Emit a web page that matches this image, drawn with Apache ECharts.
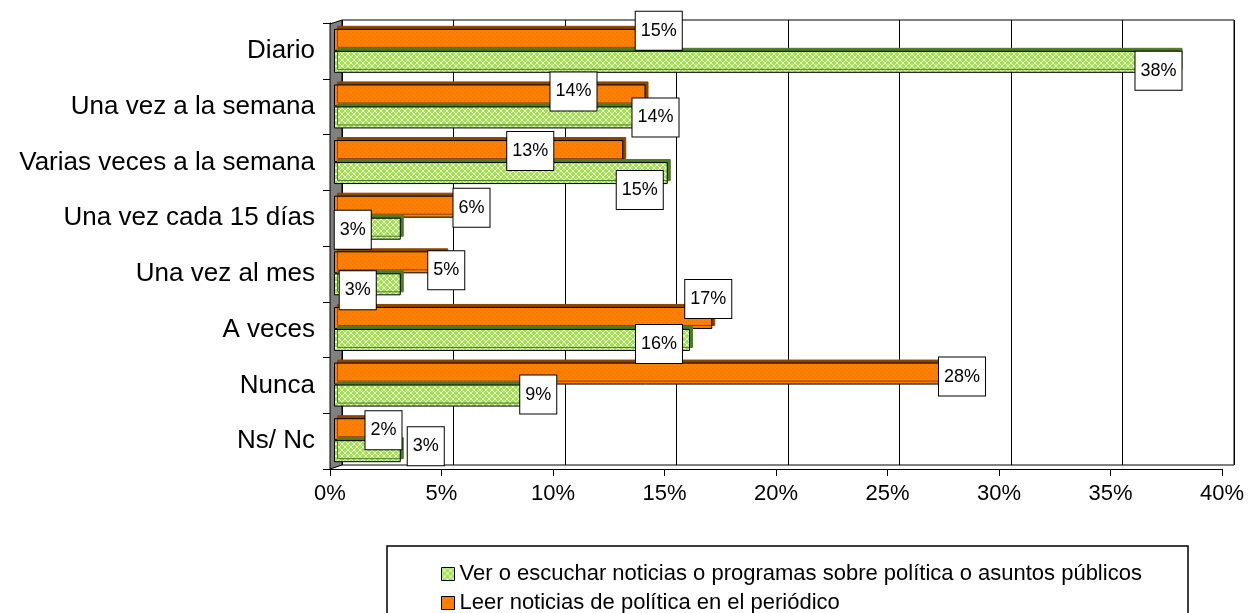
<!DOCTYPE html>
<html>
<head>
<meta charset="utf-8">
<script src="https://cdn.jsdelivr.net/npm/echarts@6/dist/echarts.min.js"></script>
<style>
html,body{margin:0;padding:0;background:#fff;}
#chart{width:1249px;height:613px;}
</style>
</head>
<body>
<div id="chart"></div>
<script>
// ---- data ----
const categories = ['Diario','Una vez a la semana','Varias veces a la semana','Una vez cada 15 días','Una vez al mes','A veces','Nunca','Ns/ Nc'];
const seriesVerName = 'Ver o escuchar noticias o programas sobre política o asuntos públicos';
const seriesLeerName = 'Leer noticias de política en el periódico';
const verValues  = [38, 14, 15, 3, 3, 16, 9, 3];
const leerValues = [15, 14, 13, 6, 5, 17, 28, 2];
const xTickMax = 40;
const xTickStep = 5;

// ---- label nudges (style only, pixels relative to bar end) ----
const leerNudgeX = [-9, -72, -93, 4, 1, -4, 5, 5];
const leerNudgeY = [-9, -4, 0, 1, 8, -19, 3, 1];
const verNudgeX  = [-21, 10, -28, -48, -43, -31, 4, 25];
const verNudgeY  = [9, 0, 17, 1, 6, 4, -1, -5];

function makeGreenPattern(){
  const c = document.createElement('canvas'); c.width = 6; c.height = 6;
  const g = c.getContext('2d');
  g.fillStyle = '#A8DD5C'; g.fillRect(0,0,6,6);
  g.fillStyle = '#E2FFC4';
  for (let i=0;i<6;i++){ g.fillRect(i,i,1,1); g.fillRect(5-i,i,1,1); }
  return c;
}
function makeOrangePattern(){
  const c = document.createElement('canvas'); c.width = 4; c.height = 4;
  const g = c.getContext('2d');
  g.fillStyle = '#FF8000'; g.fillRect(0,0,4,4);
  g.fillStyle = '#EE7400';
  g.fillRect(0,0,1,1); g.fillRect(2,2,1,1);
  return c;
}

const chart = echarts.init(document.getElementById('chart'), null, {renderer:'canvas'});
const FONT = "'Liberation Sans', Arial, sans-serif";

const labelBase = {
  show: true,
  position: ['100%','50%'],
  align: 'center',
  verticalAlign: 'middle',
  formatter: '{c}%',
  fontFamily: FONT,
  fontSize: 18,
  lineHeight: 22,
  color: '#000',
  backgroundColor: '#fff',
  borderColor: '#000',
  borderWidth: 1,
  padding: [8,5,8,5]
};

const option = {
  animation: false,
  backgroundColor: '#fff',
  textStyle: {fontFamily: FONT},
  legend: {
    orient: 'vertical',
    left: 436,
    top: 558,
    height: 80,
    width: 760,
    itemWidth: 13,
    itemHeight: 13,
    itemGap: 7,
    icon: 'rect',
    data: [seriesVerName, seriesLeerName],
    textStyle: {fontFamily: FONT, fontSize: 22, color: '#000'},
    itemStyle: {borderColor:'#000', borderWidth:1, shadowBlur:0, shadowOffsetX:0, shadowOffsetY:0, shadowColor:'rgba(0,0,0,0)'}
  },
  graphic: [
    {type:'rect', z: -1, shape:{x:387, y:546, width:801, height:90}, style:{fill:'#fff', stroke:'#000', lineWidth:1.5}},
    {type:'polygon', z: 1, shape:{points:[[330,24],[342,20],[342,465],[330,469]]}, style:{fill:'#808080', stroke:'#000', lineWidth:1}}
  ],
  grid: [
    {left:330, top:23, width:892, height:446},
    {left:342, top:20, width:892, height:445, show:true, backgroundColor:'#fff', borderColor:'#000', borderWidth:1},
    {left:334, top:23, width:890, height:445}
  ],
  xAxis: [
    {gridIndex:0, type:'value', min:0, max:xTickMax, interval:xTickStep,
     axisLine:{show:true, lineStyle:{color:'#000', width:1}},
     axisTick:{show:true, length:7, lineStyle:{color:'#000'}},
     axisLabel:{formatter:'{value}%', fontSize:22, color:'#000', fontFamily:FONT, margin:14},
     splitLine:{show:false}},
    {gridIndex:1, type:'value', min:0, max:xTickMax, interval:xTickStep,
     axisLine:{show:false}, axisTick:{show:false}, axisLabel:{show:false},
     splitLine:{show:true, lineStyle:{color:'#000', width:1}}},
    {gridIndex:2, type:'value', min:0, max:xTickMax, interval:xTickStep,
     axisLine:{show:false}, axisTick:{show:false}, axisLabel:{show:false}, splitLine:{show:false}}
  ],
  yAxis: [
    {gridIndex:0, type:'category', data:categories, inverse:true,
     axisLine:{show:true, lineStyle:{color:'#000', width:1}},
     axisTick:{show:true, length:7, lineStyle:{color:'#000'}},
     axisLabel:{fontSize:26, color:'#000', fontFamily:FONT, margin:15},
     splitLine:{show:false}},
    {gridIndex:1, type:'category', data:categories, inverse:true, show:false},
    {gridIndex:2, type:'category', data:categories, inverse:true, show:false}
  ],
  series: [
    {
      name: seriesLeerName, type:'bar', xAxisIndex:2, yAxisIndex:2, z:3,
      barWidth: 22, barGap: '0%',
      itemStyle: {color:{image: makeOrangePattern(), repeat:'repeat'}, borderColor:'#000', borderWidth:1,
                  shadowColor:'#8A4500', shadowBlur:0, shadowOffsetX:3, shadowOffsetY:-3},
      label: labelBase,
      data: leerValues.map((v,i)=>({value:v, label:{offset:[leerNudgeX[i], leerNudgeY[i]]}}))
    },
    {
      name: seriesVerName, type:'bar', xAxisIndex:2, yAxisIndex:2, z:3,
      barWidth: 22, barGap: '0%',
      itemStyle: {color:{image: makeGreenPattern(), repeat:'repeat'}, borderColor:'#000', borderWidth:1,
                  shadowColor:'#4E7A28', shadowBlur:0, shadowOffsetX:3, shadowOffsetY:-3},
      label: labelBase,
      data: verValues.map((v,i)=>({value:v, label:{offset:[verNudgeX[i], verNudgeY[i]]}}))
    }
  ]
};
chart.setOption(option);
</script>
</body>
</html>
